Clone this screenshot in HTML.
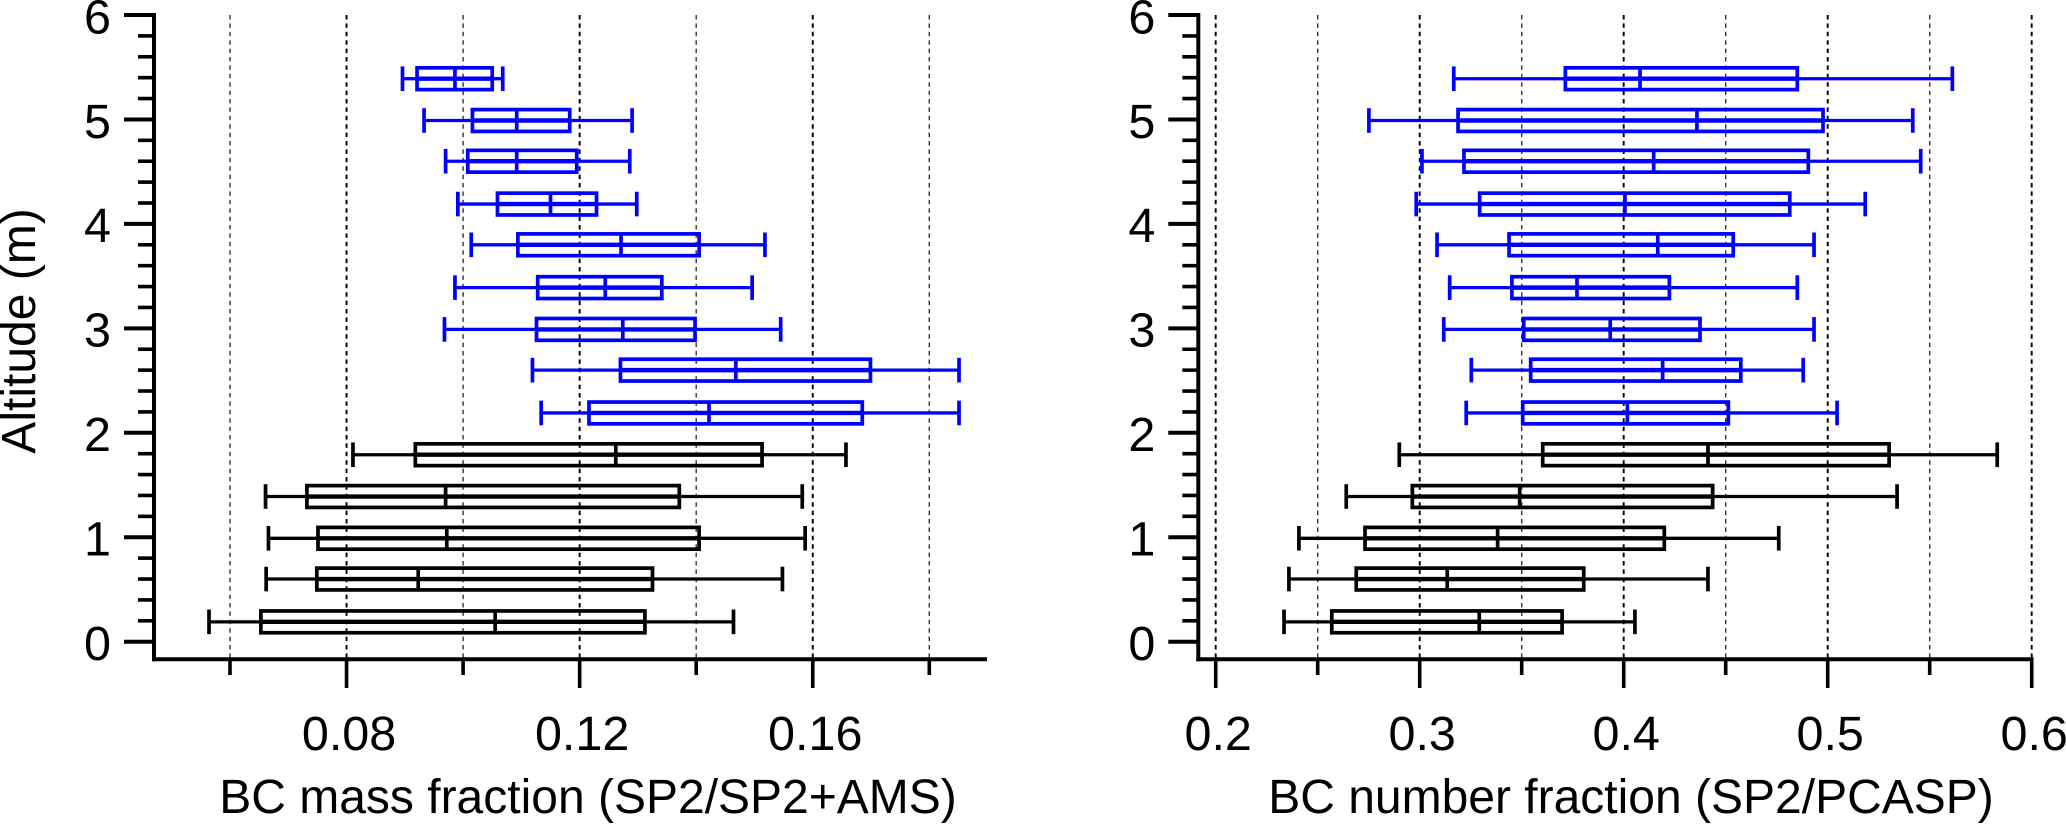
<!DOCTYPE html>
<html lang="en">
<head>
<meta charset="utf-8">
<title>BC mass and number fraction by altitude</title>
<style>
html,body{margin:0;padding:0;background:#fff;}
svg{display:block;}
text{font-family:"Liberation Sans",Arial,sans-serif;fill:#000;}
.tick{font-size:48.5px;}
.title{font-size:48px;}
</style>
</head>
<body>
<svg id="figure" xmlns="http://www.w3.org/2000/svg" width="2066" height="824" viewBox="0 0 2066 824">
  <text class="title" transform="translate(35 331) rotate(-90)" text-anchor="middle">Altitude (m)</text>
  <text class="title" x="588" y="813" text-anchor="middle">BC mass fraction (SP2/SP2+AMS)</text>
  <text class="title" x="1631" y="813" text-anchor="middle">BC number fraction (SP2/PCASP)</text>
</svg>
<script>
// Altitude of each box (top to bottom)
var altitudes = [5.39,4.99,4.6,4.19,3.8,3.39,2.99,2.6,2.19,1.79,1.39,0.99,0.6,0.19];
var seriesGroup = ['upper','upper','upper','upper','upper','upper','upper','upper','upper','lower','lower','lower','lower','lower'];

// BC mass fraction panel
var massLow    = [.0896,.0933,.0970,.0991,.1014,.0986,.0968,.1119,.1134,.0811,.0661,.0666,.0662,.0564];
var massQ1     = [.0921,.1016,.1008,.1059,.1094,.1128,.1126,.1270,.1216,.0918,.0732,.0751,.0749,.0653];
var massMedian = [.0986,.1092,.1092,.1150,.1271,.1244,.1274,.1468,.1422,.1262,.0970,.0972,.0923,.1055];
var massQ3     = [.1050,.1183,.1195,.1229,.1405,.1341,.1398,.1699,.1685,.1513,.1371,.1405,.1325,.1312];
var massHigh   = [.1068,.1290,.1286,.1298,.1518,.1496,.1545,.1851,.1851,.1657,.1582,.1587,.1548,.1464];

// BC number fraction panel
var numberLow    = [.3167,.2751,.3011,.2983,.3085,.3147,.3118,.3253,.3228,.2900,.2640,.2408,.2359,.2335];
var numberQ1     = [.3714,.3188,.3217,.3294,.3438,.3452,.3510,.3544,.3505,.3603,.2964,.2732,.2689,.2569];
var numberMedian = [.4080,.4359,.4147,.4006,.4167,.3771,.3934,.4191,.4018,.4413,.3490,.3382,.3135,.3292];
var numberQ3     = [.4851,.4977,.4905,.4814,.4537,.4224,.4374,.4574,.4513,.5301,.4436,.4199,.3804,.3698];
var numberHigh   = [.5611,.5417,.5456,.5184,.4933,.4851,.4933,.4880,.5046,.5831,.5340,.4760,.4413,.4055];

// Ticks
var altitudeMajorTicks = [0,1,2,3,4,5,6];
var altitudeMinorTicks = [0.2,0.4,0.6,0.8,1.2,1.4,1.6,1.8,2.2,2.4,2.6,2.8,3.2,3.4,3.6,3.8,4.2,4.4,4.6,4.8,5.2,5.4,5.6,5.8];
var massMajorTicks = [0.08,0.12,0.16];
var massMajorLabels = ['0.08','0.12','0.16'];
var massMinorTicks = [0.06,0.10,0.14,0.18];
var numberMajorTicks = [0.2,0.3,0.4,0.5,0.6];
var numberMajorLabels = ['0.2','0.3','0.4','0.5','0.6'];
var numberMinorTicks = [0.25,0.35,0.45,0.55];

var svg = document.getElementById('figure');
var NS = 'http://www.w3.org/2000/svg';

function yScale(a){ return 641.7 - 104.45 * a; }
function massX(v){ return 230 + (v - 0.06) * 5827.5; }
function numberX(v){ return 1215.7 + (v - 0.2) * 2040; }

function line(parent, x1, y1, x2, y2, color, width, name, dash){
  var el = document.createElementNS(NS, 'line');
  el.setAttribute('x1', x1);
  el.setAttribute('y1', y1);
  el.setAttribute('x2', x2);
  el.setAttribute('y2', y2);
  el.setAttribute('stroke', color);
  el.setAttribute('stroke-width', width);
  if (dash) el.setAttribute('stroke-dasharray', dash);
  
  
  parent.appendChild(el);
  return el;
}
function label(parent, x, y, anchor, str, name){
  var el = document.createElementNS(NS, 'text');
  el.setAttribute('x', x);
  el.setAttribute('y', y);
  el.setAttribute('text-anchor', anchor);
  el.setAttribute('class', 'tick');
  
  
  el.textContent = str;
  parent.appendChild(el);
  return el;
}
function group(name){
  var g = document.createElementNS(NS, 'g');
  
  
  svg.appendChild(g);
  return g;
}

function drawPanel(cfg){
  var x = cfg.x, panel = group(cfg.name);
  var i, top = yScale(6), axisY = 659.3;

  // grid
  cfg.minor.forEach(function(v){
    line(panel, x(v), top, x(v), axisY, '#333', 1.4, 'grid-line-minor', '4.5 3.9');
  });
  cfg.major.forEach(function(v){
    line(panel, x(v), top, x(v), axisY, '#000', 1.9, 'grid-line-major', '4.5 3.9');
  });

  // y axis
  line(panel, cfg.axisX, top - 2, cfg.axisX, axisY + 2, '#000', 4, 'y-axis-line');
  altitudeMajorTicks.forEach(function(a){
    line(panel, cfg.axisX - 30, yScale(a), cfg.axisX, yScale(a), '#000', 4, 'y-major-tick');
    label(panel, cfg.axisX - 43, yScale(a) + 18.3, 'end', String(a), 'y-tick-label');
  });
  altitudeMinorTicks.forEach(function(a){
    line(panel, cfg.axisX - 16, yScale(a), cfg.axisX, yScale(a), '#000', 3.6, 'y-minor-tick');
  });

  // x axis
  line(panel, cfg.axisX - 2, axisY, cfg.axisEnd, axisY, '#000', 4, 'x-axis-line');
  cfg.major.forEach(function(v, k){
    line(panel, x(v), axisY, x(v), 688, '#000', 3.6, 'x-major-tick');
    label(panel, x(v) + 2.5, 750, 'middle', cfg.labels[k], 'x-tick-label');
  });
  cfg.minor.forEach(function(v){
    line(panel, x(v), axisY, x(v), 675, '#000', 3.6, 'x-minor-tick');
  });

  // boxes
  for (i = 0; i < altitudes.length; i++){
    var y = yScale(altitudes[i]);
    var color = seriesGroup[i] === 'upper' ? '#0000ff' : '#000000';
    var g = group('box-altitude-' + altitudes[i]);
    panel.appendChild(g);
    var xl = x(cfg.low[i]), q1 = x(cfg.q1[i]), m = x(cfg.med[i]), q3 = x(cfg.q3[i]), xh = x(cfg.high[i]);
    line(g, xl, y, q1, y, color, 3.3, 'whisker-low');
    line(g, q3, y, xh, y, color, 3.3, 'whisker-high');
    line(g, xl, y - 12.3, xl, y + 12.3, color, 3.7, 'whisker-cap-low');
    line(g, xh, y - 12.3, xh, y + 12.3, color, 3.7, 'whisker-cap-high');
    line(g, q1, y, q3, y, color, 4.4, 'box-center-line');
    var rect = document.createElementNS(NS, 'rect');
    rect.setAttribute('x', q1);
    rect.setAttribute('y', y - 10.9);
    rect.setAttribute('width', q3 - q1);
    rect.setAttribute('height', 21.8);
    rect.setAttribute('fill', 'none');
    rect.setAttribute('stroke', color);
    rect.setAttribute('stroke-width', 3.7);
    
    
    g.appendChild(rect);
    line(g, m, y - 10.9, m, y + 10.9, color, 3.7, 'median-line');
  }
}

drawPanel({name:'mass-fraction-panel', x:massX, axisX:154, axisEnd:987,
  major:massMajorTicks, labels:massMajorLabels, minor:massMinorTicks,
  low:massLow, q1:massQ1, med:massMedian, q3:massQ3, high:massHigh});
drawPanel({name:'number-fraction-panel', x:numberX, axisX:1198.3, axisEnd:2033.5,
  major:numberMajorTicks, labels:numberMajorLabels, minor:numberMinorTicks,
  low:numberLow, q1:numberQ1, med:numberMedian, q3:numberQ3, high:numberHigh});
</script>
</body>
</html>
